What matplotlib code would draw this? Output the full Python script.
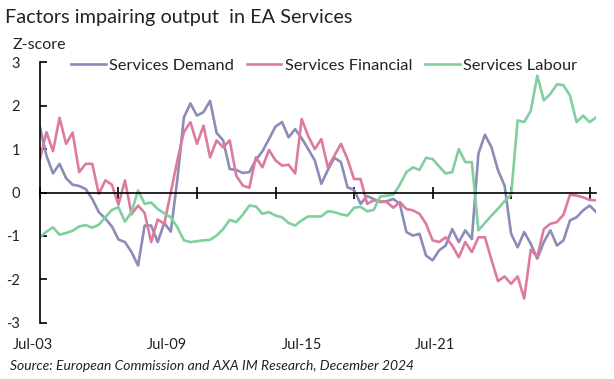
import numpy as np
import matplotlib
matplotlib.use("Agg")
import matplotlib.pyplot as plt

plt.rcParams['font.family'] = ['Lato', 'DejaVu Sans']

# quarterly z-scores, Jul-03 .. Oct-24
demand = [1.5, 0.85, 0.44, 0.66, 0.33, 0.18, 0.15, 0.08, -0.15, -0.45,
          -0.6, -0.78, -1.08, -1.14, -1.37, -1.68, -0.76, -0.76, -1.14, -0.7,
          -0.9, 0.3, 1.73, 2.05, 1.77, 1.85, 2.11, 1.37, 1.2, 0.54,
          0.52, 0.45, 0.47, 0.75, 0.95, 1.23, 1.52, 1.62, 1.27, 1.46,
          1.25, 1.0, 0.74, 0.2, 0.52, 0.8, 0.7, 0.12, 0.06, -0.26,
          -0.08, -0.15, -0.22, -0.2, -0.15, -0.26, -0.91, -0.99, -0.95, -1.45,
          -1.56, -1.33, -1.22, -0.84, -1.14, -0.87, -1.07, 0.89, 1.33, 1.04,
          0.51, 0.16, -0.95, -1.26, -0.91, -1.18, -1.52, -1.14, -0.87, -1.22,
          -1.1, -0.64, -0.57, -0.41, -0.3, -0.45]
financial = [0.77, 1.39, 0.95, 1.72, 1.12, 1.38, 0.47, 0.66, 0.66, -0.03,
             0.28, 0.18, -0.28, 0.28, -0.5, -0.3, -0.47, -1.14, -0.62, -0.72,
             0.0, 0.74, 1.39, 1.62, 1.12, 1.54, 0.81, 1.2, 1.04, 1.2,
             0.39, 0.16, 0.11, 0.81, 0.58, 0.98, 0.74, 0.62, 0.64, 0.44,
             1.69, 1.3, 1.0, 1.23, 0.58, 0.85, 1.12, 0.77, 0.31, 0.31,
             -0.26, -0.18, -0.2, -0.22, -0.35, -0.22, -0.38, -0.41, -0.49, -0.72,
             -1.1, -1.14, -1.03, -1.22, -1.49, -1.14, -1.37, -1.03, -1.03, -1.55,
             -2.04, -1.93, -2.1, -1.93, -2.44, -1.32, -1.47, -0.84, -0.72, -0.68,
             -0.51, -0.05, -0.07, -0.11, -0.17, -0.18]
labour = [-1.03, -0.9, -0.8, -0.97, -0.93, -0.88, -0.78, -0.75, -0.81, -0.74,
          -0.57, -0.4, -0.34, -0.67, -0.45, 0.05, -0.26, -0.23, -0.38, -0.48,
          -0.57, -0.8, -1.1, -1.14, -1.12, -1.1, -1.09, -0.99, -0.84, -0.63,
          -0.68, -0.51, -0.3, -0.32, -0.49, -0.45, -0.53, -0.57, -0.7, -0.76,
          -0.64, -0.55, -0.55, -0.55, -0.43, -0.45, -0.5, -0.53, -0.35, -0.33,
          -0.43, -0.4, -0.09, -0.07, -0.05, 0.18, 0.47, 0.58, 0.52, 0.8,
          0.77, 0.6, 0.44, 0.47, 1.0, 0.7, 0.7, -0.87, -0.7, -0.53,
          -0.37, -0.2, -0.05, 1.66, 1.62, 1.88, 2.69, 2.12, 2.27, 2.49,
          2.47, 2.23, 1.62, 1.77, 1.62, 1.73]

xlabels = ['Jul-03', 'Jul-09', 'Jul-15', 'Jul-21']
xlabel_pos = [-1.0, 19.4, 40, 60.4]
yticks = [-3, -2, -1, 0, 1, 2, 3]

x = np.arange(len(demand))

fig = plt.figure(figsize=(6.14, 3.79), dpi=100)
ax = fig.add_axes([0.065, 0.148, 0.906, 0.688])

ax.plot(x, demand, color='#8c8cb8', lw=1.9, label='Services Demand')
ax.plot(x, financial, color='#dd7b9e', lw=1.9, label='Services Financial')
ax.plot(x, labour, color='#80cf9d', lw=1.9, label='Services Labour')

ax.set_xlim(0, len(x) - 1)
ax.set_ylim(-3, 3)

for s in ['top', 'right']:
    ax.spines[s].set_visible(False)
ax.spines['bottom'].set_position(('data', 0))
ax.spines['bottom'].set_linewidth(1.2)
ax.spines['left'].set_linewidth(1.2)

ax.set_xticks(np.arange(0, len(x), 12))
ax.set_xticklabels([])
ax.tick_params(axis='x', direction='inout', length=8, width=1.2)
ax.set_yticks(yticks)
ax.set_yticklabels([str(v) for v in yticks])
ax.tick_params(axis='y', direction='in', length=5, width=1.2, pad=14.5,
               labelsize=10.5)
for lab in ax.get_yticklabels():
    lab.set_color('#222222')

for p, t in zip(xlabel_pos, xlabels):
    ax.text(p, -0.084, t, transform=ax.get_xaxis_transform(),
            ha='center', va='center', fontsize=10.5, color='#222222')

ax.legend(loc='upper left', bbox_to_anchor=(0.03, 1.07), ncol=3,
          frameon=False, fontsize=11.8, handlelength=2.1, handletextpad=0.2,
          columnspacing=0.8, labelcolor='#222222')

fig.text(0.008, 0.955, 'Factors impairing output  in EA Services',
         fontsize=14.3, ha='left', va='center', color='#222222')
fig.text(0.02, 0.88, 'Z-score', fontsize=11.5, ha='left', va='center',
         color='#222222')
fig.text(0.016, 0.034,
         'Source: European Commission and AXA IM Research, December 2024',
         fontsize=10, style='italic', ha='left', va='center', color='#222222')

fig.savefig('out.png', dpi=100)
